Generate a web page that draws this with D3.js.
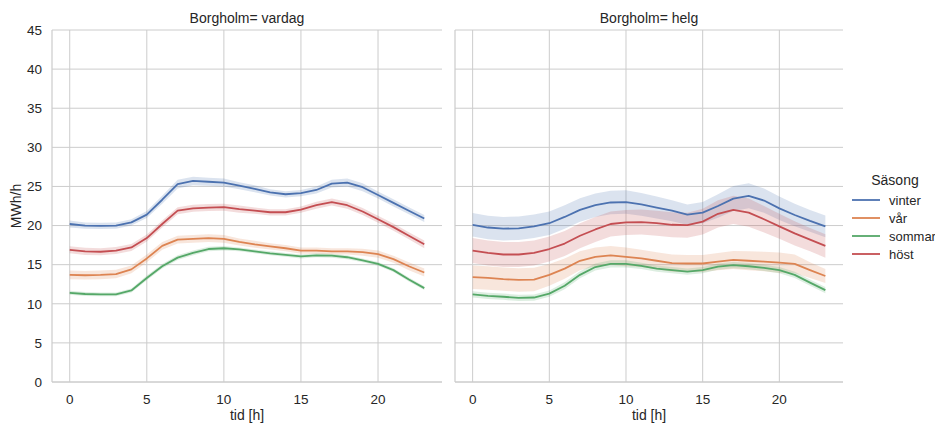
<!DOCTYPE html>
<html><head><meta charset="utf-8">
<script src="https://cdn.jsdelivr.net/npm/d3@7"></script>
<style>body{margin:0;background:#fff}svg{display:block}text{font-family:"Liberation Sans",Arial,sans-serif;fill:#262626}</style>
</head><body><svg id="c" width="935" height="426"></svg>
<script>
const hours = d3.range(24);
const seasons = ["vinter","vår","sommar","höst"];
const colors = ["#4c72b0","#dd8452","#55a868","#c44e52"];
const panels = ["vardag","helg"];
const yTicks = [0,5,10,15,20,25,30,35,40,45];
const xTicks = [0,5,10,15,20];

// vardag (weekday) means
const vardag_vinter = [20.2,20.0,19.95,20.0,20.4,21.4,23.3,25.3,25.7,25.6,25.5,25.1,24.7,24.25,24.0,24.15,24.55,25.35,25.5,24.9,23.9,22.9,21.9,20.9];
const vardag_var    = [13.7,13.65,13.7,13.8,14.4,15.8,17.4,18.2,18.3,18.4,18.3,17.9,17.6,17.35,17.1,16.8,16.8,16.7,16.7,16.6,16.35,15.7,14.8,14.0];
const vardag_sommar = [11.4,11.25,11.2,11.2,11.7,13.3,14.8,15.9,16.5,17.0,17.1,16.95,16.7,16.45,16.25,16.05,16.2,16.15,15.95,15.55,15.1,14.3,13.1,12.0];
const vardag_host   = [16.9,16.7,16.65,16.8,17.2,18.4,20.2,21.9,22.2,22.3,22.35,22.1,21.9,21.7,21.7,22.05,22.6,23.0,22.6,21.8,20.8,19.8,18.7,17.6];
// vardag confidence half-widths
const vardag_vinter_ci = [0.45,0.4,0.4,0.4,0.4,0.45,0.5,0.55,0.55,0.5,0.5,0.45,0.45,0.4,0.4,0.4,0.45,0.5,0.5,0.5,0.45,0.45,0.45,0.45];
const vardag_var_ci    = [0.55,0.55,0.55,0.55,0.5,0.5,0.5,0.5,0.5,0.5,0.5,0.45,0.45,0.4,0.4,0.4,0.4,0.4,0.4,0.45,0.45,0.45,0.5,0.5];
const vardag_sommar_ci = [0.25,0.25,0.25,0.25,0.25,0.3,0.3,0.3,0.3,0.3,0.3,0.25,0.25,0.25,0.25,0.25,0.25,0.25,0.25,0.25,0.25,0.25,0.25,0.25];
const vardag_host_ci   = [0.45,0.45,0.45,0.45,0.45,0.45,0.45,0.45,0.45,0.45,0.45,0.45,0.4,0.4,0.4,0.4,0.45,0.45,0.45,0.45,0.45,0.45,0.45,0.5];

// helg (weekend) means
const helg_vinter = [20.1,19.75,19.6,19.65,19.9,20.3,21.1,22.0,22.6,22.95,23.0,22.7,22.3,21.9,21.4,21.65,22.5,23.45,23.8,23.2,22.2,21.35,20.6,19.9];
const helg_var    = [13.4,13.3,13.15,13.05,13.1,13.7,14.5,15.5,16.0,16.2,16.0,15.8,15.5,15.2,15.15,15.15,15.4,15.6,15.5,15.4,15.25,15.1,14.3,13.55];
const helg_sommar = [11.2,11.0,10.9,10.75,10.8,11.3,12.3,13.7,14.7,15.1,15.1,14.85,14.5,14.3,14.1,14.3,14.75,14.95,14.8,14.6,14.3,13.7,12.7,11.75];
const helg_host   = [16.8,16.5,16.3,16.3,16.5,17.0,17.7,18.7,19.5,20.2,20.4,20.45,20.3,20.1,20.05,20.5,21.5,22.0,21.65,20.8,19.9,19.0,18.2,17.4];
// helg confidence half-widths
const helg_vinter_ci = [1.5,1.5,1.5,1.5,1.5,1.5,1.5,1.5,1.5,1.5,1.5,1.45,1.4,1.35,1.3,1.35,1.5,1.6,1.6,1.55,1.5,1.45,1.4,1.4];
const helg_var_ci    = [1.5,1.5,1.5,1.5,1.5,1.4,1.3,1.2,1.2,1.2,1.2,1.1,1.1,1.1,1.1,1.1,1.1,1.15,1.2,1.25,1.3,1.2,1.0,0.9];
const helg_sommar_ci = [0.4,0.4,0.4,0.4,0.4,0.4,0.45,0.45,0.45,0.45,0.45,0.4,0.4,0.4,0.4,0.4,0.4,0.4,0.4,0.4,0.4,0.4,0.4,0.4];
const helg_host_ci   = [1.6,1.6,1.6,1.6,1.6,1.6,1.6,1.6,1.6,1.6,1.6,1.6,1.6,1.6,1.6,1.65,1.75,1.8,1.8,1.7,1.6,1.55,1.5,1.5];

const data = {
  vardag: [[vardag_vinter,vardag_vinter_ci],[vardag_var,vardag_var_ci],[vardag_sommar,vardag_sommar_ci],[vardag_host,vardag_host_ci]],
  helg:   [[helg_vinter,helg_vinter_ci],[helg_var,helg_var_ci],[helg_sommar,helg_sommar_ci],[helg_host,helg_host_ci]]
};

const svg = d3.select("#c");
const plotTop = 30, plotBottom = 382;
const panelX = [[52,442],[455,843]];
const y = d3.scaleLinear().domain([0,45]).range([plotBottom,plotTop]);

panels.forEach((p,pi)=>{
  const [x0,x1] = panelX[pi];
  const x = d3.scaleLinear().domain([-1.15,24.15]).range([x0,x1]);
  const g = svg.append("g");
  // grid
  g.selectAll(".gy").data(yTicks).join("line")
    .attr("x1",x0).attr("x2",x1).attr("y1",d=>y(d)).attr("y2",d=>y(d))
    .attr("stroke","#cccccc").attr("stroke-width",1);
  g.selectAll(".gx").data(xTicks).join("line")
    .attr("x1",d=>x(d)).attr("x2",d=>x(d)).attr("y1",plotTop).attr("y2",plotBottom)
    .attr("stroke","#cccccc").attr("stroke-width",1);
  // spines
  g.append("line").attr("x1",x0).attr("x2",x0).attr("y1",plotTop).attr("y2",plotBottom).attr("stroke","#cccccc").attr("stroke-width",1.2);
  g.append("line").attr("x1",x0).attr("x2",x1).attr("y1",plotBottom).attr("y2",plotBottom).attr("stroke","#cccccc").attr("stroke-width",1.2);

  // bands and lines
  data[p].forEach(([vals,ci],si)=>{
    const area = d3.area().x((d,i)=>x(hours[i])).y0((d,i)=>y(d-ci[i])).y1((d,i)=>y(d+ci[i]));
    g.append("path").attr("d",area(vals)).attr("fill",colors[si]).attr("fill-opacity",0.2).attr("stroke","none");
  });
  data[p].forEach(([vals],si)=>{
    const line = d3.line().x((d,i)=>x(hours[i])).y(d=>y(d));
    g.append("path").attr("d",line(vals)).attr("fill","none").attr("stroke",colors[si]).attr("stroke-width",1.8).attr("stroke-linejoin","round");
  });

  // x tick labels
  g.selectAll(".xt").data(xTicks).join("text")
    .attr("x",d=>x(d)).attr("y",404).attr("text-anchor","middle").attr("font-size",13.5).text(d=>d);
  g.append("text").attr("x",(x0+x1)/2).attr("y",420).attr("text-anchor","middle").attr("font-size",14).text("tid [h]");
  g.append("text").attr("x",(x0+x1)/2).attr("y",23).attr("text-anchor","middle").attr("font-size",14).text("Borgholm= "+p);
});

// y tick labels
svg.selectAll(".yt").data(yTicks).join("text")
  .attr("x",42).attr("y",d=>y(d)+4.8).attr("text-anchor","end").attr("font-size",13.5).text(d=>d);
svg.append("text").attr("transform","translate(21,206) rotate(-90)").attr("text-anchor","middle").attr("font-size",14).text("MWh/h");

// legend
const lg = svg.append("g");
lg.append("text").attr("x",895).attr("y",185).attr("text-anchor","middle").attr("font-size",14).text("Säsong");
seasons.forEach((s,i)=>{
  const yy = 200 + i*18;
  lg.append("line").attr("x1",852).attr("x2",880).attr("y1",yy).attr("y2",yy).attr("stroke",colors[i]).attr("stroke-width",1.8);
  lg.append("text").attr("x",889).attr("y",yy+4.5).attr("font-size",13).text(s);
});
</script></body></html>
